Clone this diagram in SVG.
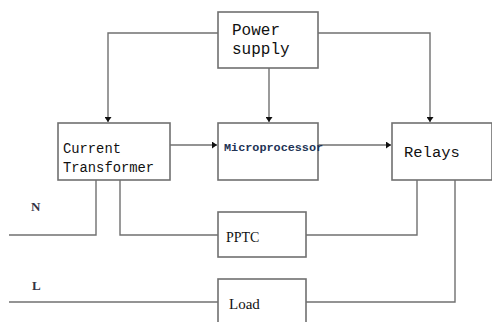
<svg xmlns="http://www.w3.org/2000/svg" width="492" height="322" viewBox="0 0 492 322">
<style>
.box{fill:#fff;stroke:#707070;stroke-width:1.6}
.ln{fill:none;stroke:#707070;stroke-width:1.4}
.mono{font-family:"Liberation Mono","DejaVu Sans Mono",monospace;fill:#111}
.serif{font-family:"Liberation Serif","DejaVu Serif",serif;fill:#111}
</style>
<defs>
<marker id="ah" markerWidth="6" markerHeight="7" refX="5" refY="3.5" orient="auto" markerUnits="userSpaceOnUse">
<path d="M0,0 L5,3.5 L0,7 Z" fill="#111"/>
</marker>
</defs>
<rect width="492" height="322" fill="#fff"/>
<g id="connectors">
<path class="ln" d="M218,33 H108 V122" marker-end="url(#ah)"/>
<path class="ln" d="M318,33 H430 V122" marker-end="url(#ah)"/>
<path class="ln" d="M269,68 V122" marker-end="url(#ah)"/>
<path class="ln" d="M170,145 H217" marker-end="url(#ah)"/>
<path class="ln" d="M318,145 H391" marker-end="url(#ah)"/>
<path class="ln" d="M96,180 V235 H9"/>
<path class="ln" d="M120,180 V235 H218"/>
<path class="ln" d="M306,235 H417 V180"/>
<path class="ln" d="M455,180 V302 H306"/>
<path class="ln" d="M9,302 H218"/>
</g>
<g id="power-supply">
<rect class="box" x="218" y="12" width="100" height="56"/>
<text class="mono" x="232" y="35" font-size="16">Power</text>
<text class="mono" x="232" y="54" font-size="16">supply</text>
</g>
<g id="current-transformer">
<rect class="box" x="58" y="123" width="112" height="57"/>
<text class="mono" x="63" y="153" font-size="13.8">Current</text>
<text class="mono" x="63" y="172" font-size="13.8">Transformer</text>
</g>
<g id="microprocessor">
<rect class="box" x="218" y="123" width="100" height="57"/>
<text class="mono" x="224" y="151" font-size="11.8" font-weight="bold" style="fill:#223355">Microprocessor</text>
</g>
<g id="relays">
<rect class="box" x="392" y="123" width="100" height="57"/>
<text class="mono" x="404" y="157" font-size="15.5">Relays</text>
</g>
<g id="pptc">
<rect class="box" x="218" y="212" width="88" height="45"/>
<text class="serif" x="226" y="242" font-size="14">PPTC</text>
</g>
<g id="load">
<rect class="box" x="218" y="279" width="88" height="46"/>
<text class="serif" x="229" y="309" font-size="15">Load</text>
</g>
<g id="labels">
<text class="serif" x="31" y="211" font-size="13" font-weight="bold" style="fill:#334">N</text>
<text class="serif" x="32" y="290" font-size="13" font-weight="bold" style="fill:#334">L</text>
</g>
</svg>
